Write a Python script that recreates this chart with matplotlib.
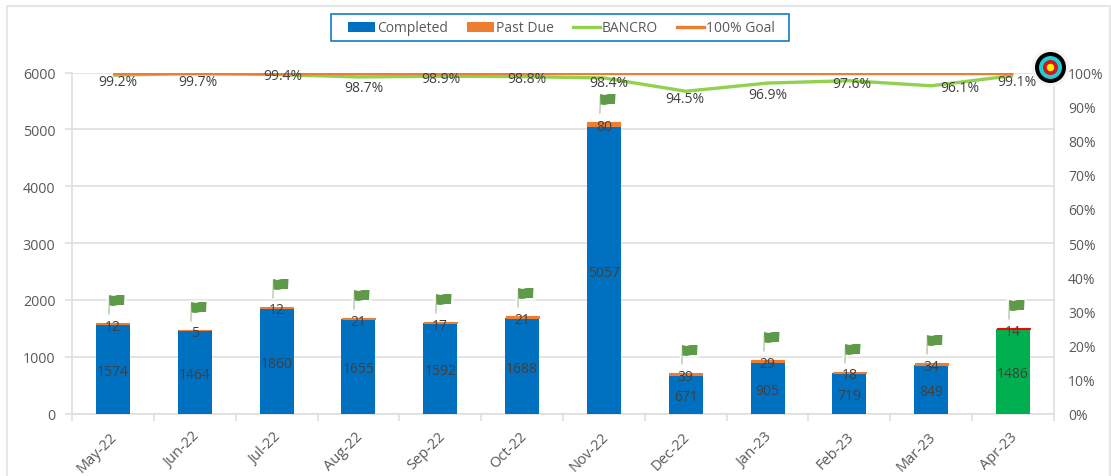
import numpy as np
import matplotlib
matplotlib.use("Agg")
import matplotlib.pyplot as plt
from matplotlib.path import Path
from matplotlib.patches import Rectangle, Patch
from matplotlib.lines import Line2D
from matplotlib.transforms import ScaledTranslation

plt.rcParams['font.family'] = ['Open Sans', 'DejaVu Sans']

months = ['May-22', 'Jun-22', 'Jul-22', 'Aug-22', 'Sep-22', 'Oct-22', 'Nov-22', 'Dec-22', 'Jan-23', 'Feb-23', 'Mar-23', 'Apr-23']
completed = [1574, 1464, 1860, 1655, 1592, 1688, 5057, 671, 905, 719, 849, 1486]
past_due = [12, 5, 12, 21, 17, 21, 80, 39, 29, 18, 34, 14]
bancro = [99.2, 99.7, 99.4, 98.7, 98.9, 98.8, 98.4, 94.5, 96.9, 97.6, 96.1, 99.1]
goal = [100] * 12

# label placement relative to each line point (pixels)
pct_dx = [5, 3, 6, 5, 1, 5, 5, -1, 0, 2, 29, 4]
pct_dy = [-6, -8, -1, -11, -2, -2, -5, -7, -11, -3, -2, -5.5]

W, H = 1111, 477
BLUE, ORANGE, GREEN = '#0070C0', '#ED7D31', '#92D050'
GRID, TXT, LBL = '#DDDDDD', '#595959', '#404040'

fig = plt.figure(figsize=(W / 100, H / 100), dpi=100, facecolor='white')
fig.patches.append(Rectangle((7 / W, -0.02), (1109.5 - 7) / W, 1.02 - 6.5 / H, transform=fig.transFigure,
                             fc='white', ec='#E6E6E6', lw=1.5, zorder=-5))
left, right, top, bottom = 72, 1054, 73.5, 414.5
ax = fig.add_axes([left / W, 1 - bottom / H, (right - left) / W, (bottom - top) / H])
ax.patch.set_alpha(0)

x = np.arange(len(months))
comp_colors = [BLUE] * 11 + ['#00B050']
due_colors = [ORANGE] * 11 + ['#FF0000']
ax.bar(x, completed, width=0.415, color=comp_colors, zorder=3)
ax.bar(x, past_due, bottom=completed, width=0.405, color=due_colors, edgecolor=due_colors, lw=0.8, zorder=3)

ax.set_xlim(-0.5, 11.5)
ax.set_ylim(0, 6000)
ax.set_yticks(range(0, 6001, 1000))
ax.grid(axis='y', color=GRID, lw=1.1, zorder=0)
ax.set_axisbelow(True)
ax.spines['top'].set_visible(False)
for s in ['left', 'right', 'bottom']:
    ax.spines[s].set_color(GRID)
    ax.spines[s].set_linewidth(1.1)
ax.tick_params(axis='y', length=5, color=GRID, labelcolor=TXT, labelsize=10.3, pad=7, width=1.1)
ax.set_xticks(np.arange(-0.5, 12, 1))
ax.set_xticklabels([])
ax.tick_params(axis='x', which='major', length=5, color=GRID, width=1.1)
ax.set_xticks(x, minor=True)
ax.set_xticklabels(months, minor=True, rotation=45, ha='right', va='top', rotation_mode='anchor',
                   color=TXT, fontsize=10.5)
ax.tick_params(axis='x', which='minor', length=0, pad=11)
shift = ScaledTranslation(-3 / 100, 0, fig.dpi_scale_trans)
for lab in ax.get_xticklabels(minor=True):
    lab.set_transform(lab.get_transform() + shift)

for xi, c, d in zip(x, completed, past_due):
    ax.annotate(str(c), (xi, c / 2), xytext=(0, -2.5), textcoords='offset pixels', ha='center', va='center',
                color=LBL, fontsize=10, zorder=6)
    ax.annotate(str(d), (xi, c + d / 2), xytext=(0, -2.5), textcoords='offset pixels', ha='center', va='center',
                color=LBL, fontsize=10, zorder=6)

# flag icons
def marker(polys, ext=30):
    v = [(0, ext)]
    c = [Path.MOVETO]
    for p in polys:
        v += p + [p[0]]
        c += [Path.MOVETO] + [Path.LINETO] * (len(p) - 1) + [Path.CLOSEPOLY]
    return Path(v, c)

ms = 2 * 30 * 0.72
halo = marker([[(-7, 8), (-2, 8), (-2, 16), (13, 16), (13, 30), (-7, 30)]])
pole = marker([[(-5.5, 9), (-3.7, 9), (-3, 27), (-4.8, 27)]])
flag = marker([[(-4.5, 28.5), (0, 27.5), (4, 28.5), (11, 28.5), (10.5, 18.5), (5, 18.5), (0, 17.5), (-4, 18)]])
totals = [c + d for c, d in zip(completed, past_due)]
ax.plot(x, totals, ls='none', marker=halo, ms=ms, mfc='white', mec='none', alpha=.85, zorder=4, clip_on=False)
ax.plot(x, totals, ls='none', marker=pole, ms=ms, mfc='#C4D3BA', mec='none', zorder=5, clip_on=False)
ax.plot(x, totals, ls='none', marker=flag, ms=ms, mfc='#5E9A48', mec='none', zorder=5, clip_on=False)

ax2 = ax.twinx()
ax2.set_xlim(ax.get_xlim())
ax2.set_ylim(0, 100)
ax2.set_yticks(range(0, 101, 10))
ax2.set_yticklabels([f'{v}%' for v in range(0, 101, 10)])
ax2.tick_params(axis='y', length=0, labelcolor=TXT, labelsize=10, pad=10)
for s in ax2.spines.values():
    s.set_visible(False)
ax2.plot(x, bancro, color=GREEN, lw=2.4, zorder=3, solid_capstyle='butt')
ax2.plot(x, goal, color=ORANGE, lw=2.4, zorder=4, solid_capstyle='butt')
for xi, p, dx, dy in zip(x, bancro, pct_dx, pct_dy):
    ax2.annotate(f'{p}%', (xi, p), xytext=(dx, dy), textcoords='offset pixels', ha='center', va='center',
                 color=LBL, fontsize=10, zorder=6, annotation_clip=False)

# target icon
tx, ty = (1050 - left) / (right - left), (bottom - 68) / (bottom - top)
for d, col in [(38, '#F4F4F4'), (31, 'black'), (23, '#22CCD0'), (15, '#D8141C'), (7.5, '#FFF200')]:
    ax2.scatter([tx], [ty], s=(d * 0.72) ** 2, c=col, transform=ax2.transAxes, clip_on=False, zorder=8, linewidths=0)

# legend with its own box
fig.patches.append(Rectangle((330.5 / W, 1 - 42 / H), 458 / W, 27.5 / H, transform=fig.transFigure,
                             fc='white', ec=BLUE, lw=1.1, zorder=-4))
handles = [Patch(fc=BLUE), Patch(fc=ORANGE), Line2D([], [], color=GREEN, lw=2.4), Line2D([], [], color=ORANGE, lw=2.4)]
leg = fig.legend(handles, ['Completed', 'Past Due', 'BANCRO', '100% Goal'], ncol=4, loc='center left',
                 bbox_to_anchor=(348 / W, 1 - 29 / H), frameon=False, fontsize=10, handlelength=1.95,
                 handleheight=0.7, handletextpad=0.13, columnspacing=1.37, borderpad=0, borderaxespad=0,
                 labelcolor=TXT)

fig.savefig('out.png', dpi=100)
